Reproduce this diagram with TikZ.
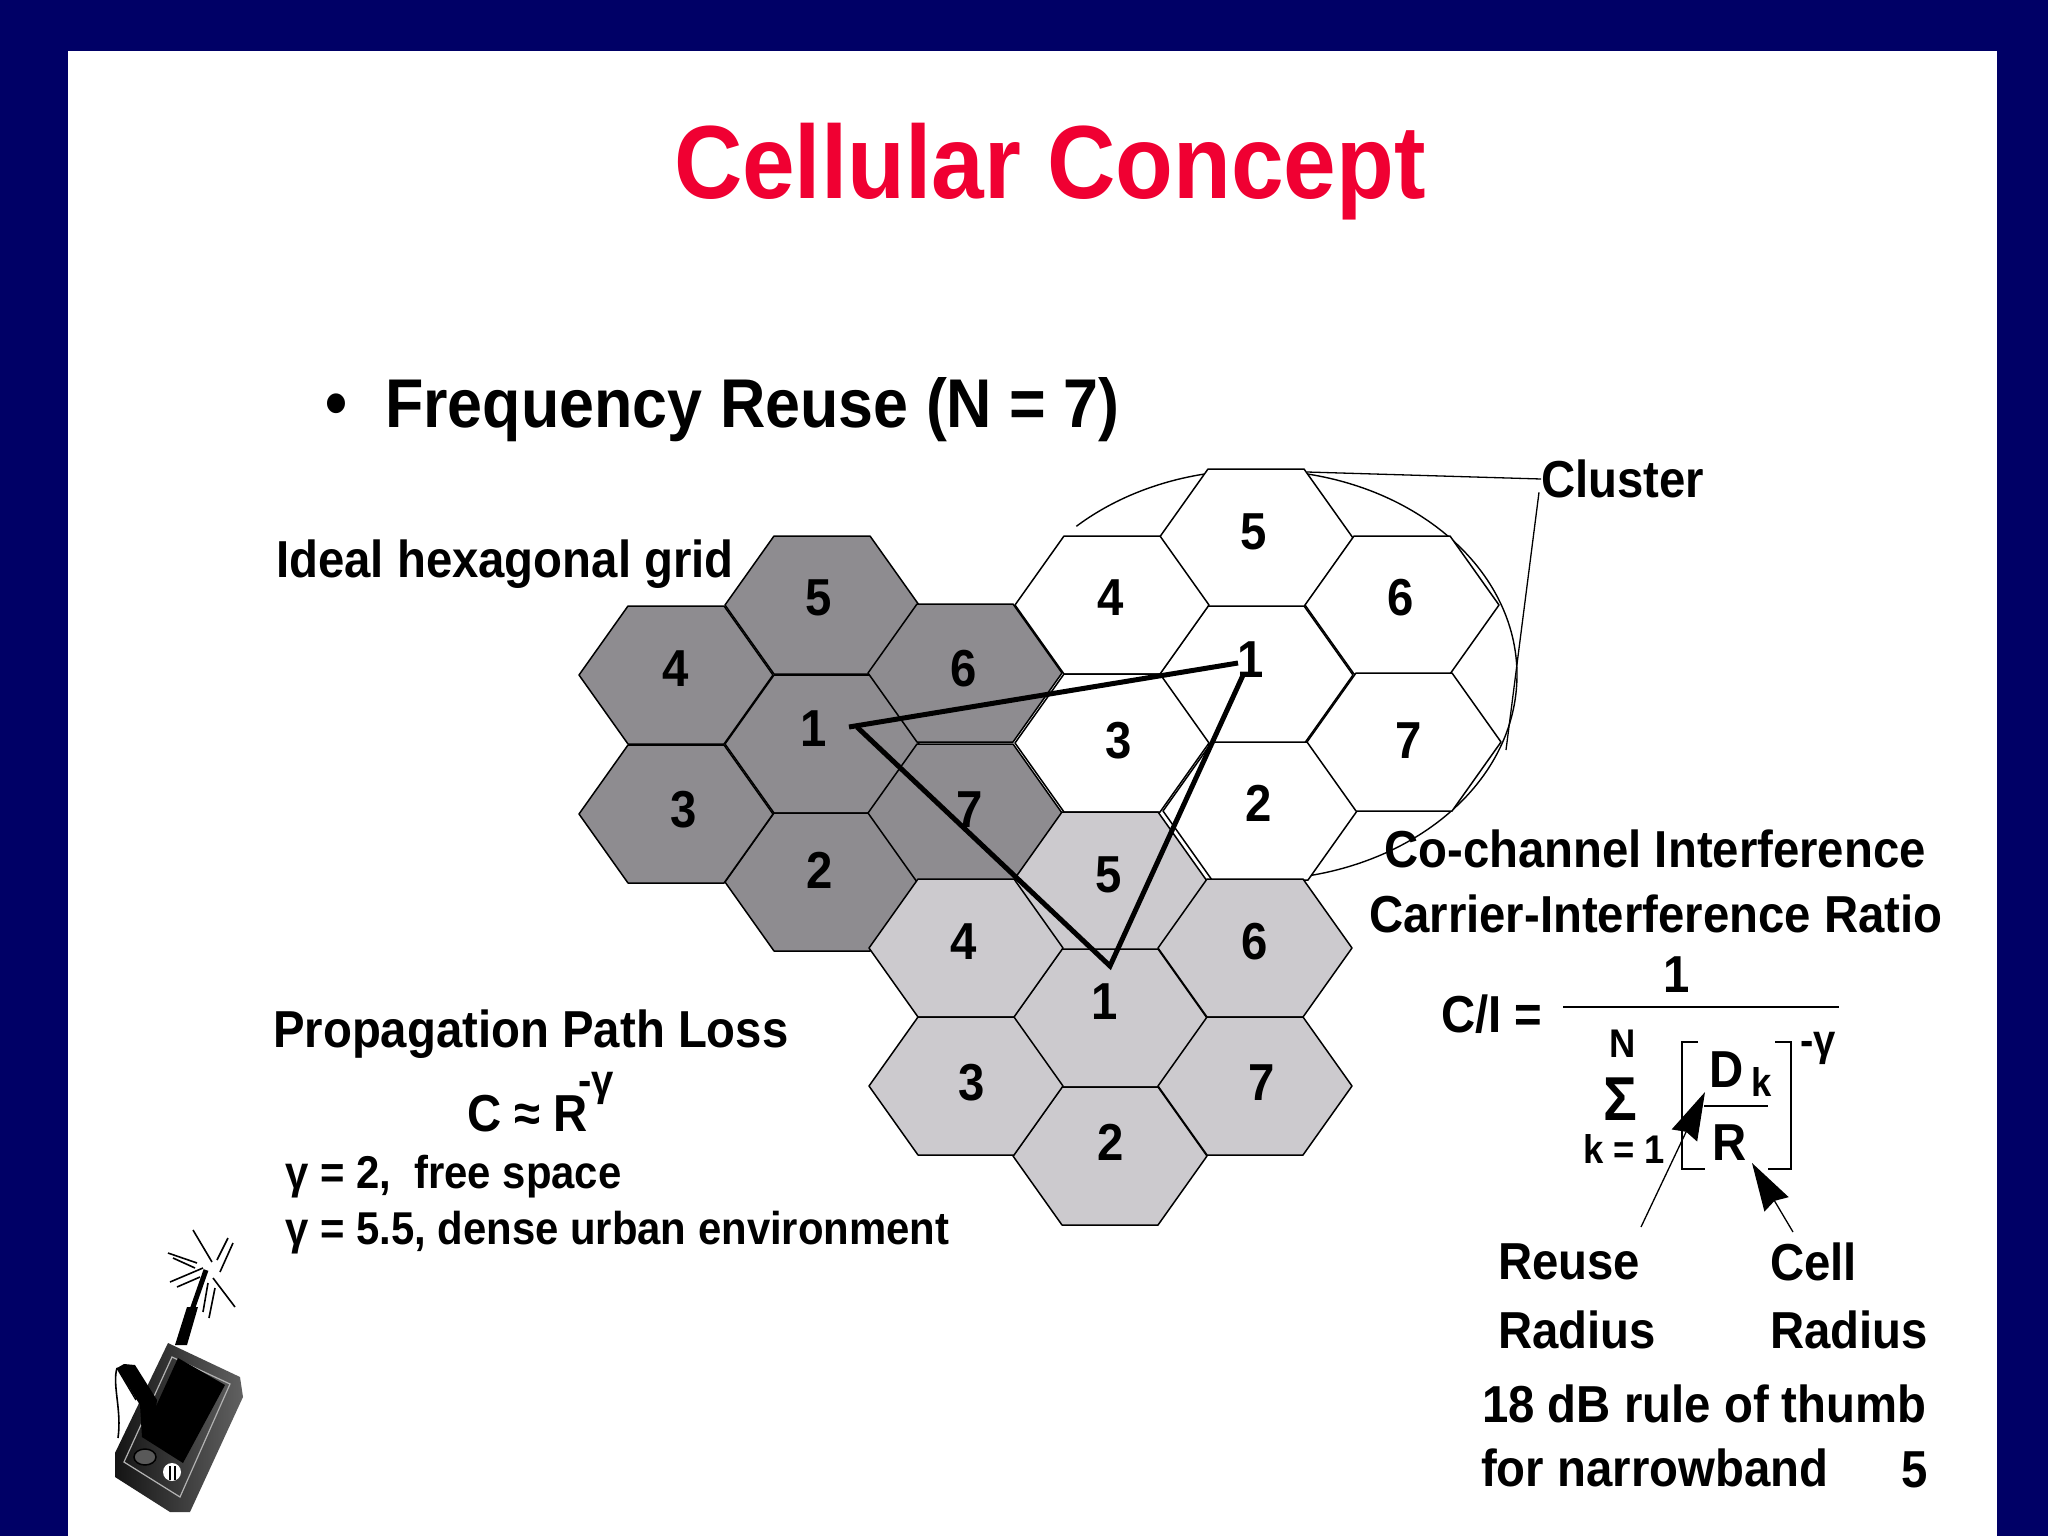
\documentclass[tikz,border=0pt]{standalone}
\usepackage{fontspec}
\setmainfont[FakeStretch=0.91]{Liberation Sans}
\usetikzlibrary{arrows.meta,positioning}
\definecolor{slidenavy}{RGB}{0,0,102}
\definecolor{titlered}{RGB}{240,0,50}
\definecolor{celldark}{RGB}{142,140,144}
\definecolor{celllight}{RGB}{204,202,206}
\newcommand{\hexcell}[3]{\draw[hexline, fill=#3, shift={(#1,#2)}] (-97,0) -- (-48,-69) -- (48,-69) -- (97,0) -- (48,69) -- (-48,69) -- cycle;}

\begin{document}
\begin{tikzpicture}[
  x=1pt, y=-1pt,
  hexline/.style={line width=1.5pt, line join=round},
  lbl/.style={font=\fontsize{52}{60}\selectfont\bfseries, inner sep=0pt, anchor=west},
  digit/.style={font=\fontsize{52}{60}\selectfont\bfseries, inner sep=0pt},
  pointer/.style={line width=1.3pt},
  bigtip/.style={-{Stealth[length=48pt, width=28pt, inset=4pt]}, line width=1.3pt},
  tri/.style={line width=5pt},
  spark/.style={line width=1.6pt},
]
\useasboundingbox (0,0) rectangle (2048,1536);
\fill[slidenavy] (0,0) rectangle (2048,1536);
\fill[white] (68,51) rectangle (1997,1536);

\node[font=\fontsize{104}{120}\selectfont\bfseries, text=titlered, inner sep=0pt] (title) at (1050,172) {Cellular Concept};
\node[font=\fontsize{69}{80}\selectfont\bfseries, inner sep=0pt] (bullet) at (336,410) {\textbullet};
\node[lbl, font=\fontsize{69}{80}\selectfont\bfseries] (reuse) at (385,410) {Frequency Reuse (N = 7)};
\node[lbl] (grid) at (276,564) {Ideal hexagonal grid};

% cluster outline
\coordinate (ring) at (1256,675);
\draw[line width=1.4pt] (ring) ++(133.5:261pt and 205pt) arc[start angle=133.5, end angle=-78.4, x radius=261pt, y radius=205pt];

% dark cluster
\foreach \x/\y in {822/605, 822/744, 822/882, 676/675, 676/814, 965/673, 965/813}
  {\hexcell{\x}{\y}{celldark}}
% white cluster
\foreach \x/\y in {1256/538, 1256/675, 1260/811, 1112/605, 1112/743, 1402/605, 1404/742}
  {\hexcell{\x}{\y}{white}}
% light cluster
\foreach \x/\y in {1110/881, 1110/1018, 1110/1156, 966/948, 966/1086, 1255/948, 1255/1086}
  {\hexcell{\x}{\y}{celllight}}

\foreach \n/\x/\y in {5/819/598, 4/676/669, 6/964/669, 1/814/729, 3/684/810, 7/970/810, 2/820/870}
  \node[digit] (dark\n) at (\x,\y) {\n};
\foreach \n/\x/\y in {5/1254/532, 4/1111/598, 6/1401/598, 1/1251/660, 3/1119/741, 7/1409/741, 2/1259/803}
  \node[digit] (open\n) at (\x,\y) {\n};
\foreach \n/\x/\y in {5/1109/875, 4/964/942, 6/1255/942, 1/1105/1002, 3/972/1083, 7/1262/1083, 2/1111/1142}
  \node[digit] (lite\n) at (\x,\y) {\n};

% reuse triangle
\coordinate (triA) at (849,727);
\coordinate (triB) at (1238,663);
\coordinate (triC) at (1244,673);
\coordinate (triD) at (1110,966);
\draw[tri] (triA) -- (triB);
\draw[tri] (triA) ++(8,0) -- (triD) -- (triC);

\node[lbl] (cluster) at (1541,479) {Cluster};
\coordinate (ringtop) at (1307,472);
\coordinate (ringside) at (1506,750);
\draw[pointer] (cluster.west) -- (ringtop);
\draw[pointer] (cluster.south west) ++(-2,-6) -- (ringside);

% path loss
\node[lbl] (loss) at (273,1034) {Propagation Path Loss};
\node[lbl] (approx) at (467,1114) {C ≈ R};
\node[lbl, font=\fontsize{44}{50}\selectfont\bfseries] (approxexp) at (578,1088) {-γ};
\node[lbl, font=\fontsize{46}{54}\selectfont\bfseries] (free) at (285,1177) {γ = 2,\ \ free space};
\node[lbl, font=\fontsize{46}{54}\selectfont\bfseries] (urban) at (285,1233) {γ = 5.5, dense urban environment};

% interference ratio
\node[lbl] (cochan) at (1384,849) {Co-channel Interference};
\node[lbl] (carrier) at (1369,914) {Carrier-Interference Ratio};
\node[lbl] (ci) at (1441,1014) {C/I =};
\node[digit] (one) at (1677,975) {1};
\coordinate (barL) at (1563,1007);
\coordinate (barR) at (1839,1007);
\draw[line width=2pt] (barL) -- (barR);
\node[digit, font=\fontsize{40}{46}\selectfont\bfseries] (topN) at (1623,1044) {N};
\node[digit, font=\fontsize{62}{68}\selectfont\bfseries] (sigma) at (1620,1099) {Σ};
\node[digit, font=\fontsize{40}{46}\selectfont\bfseries] (lowk) at (1624,1149) {k = 1};
\draw[line width=1.6pt] (1698,1042) -- (1682,1042) -- (1682,1169) -- (1705,1169);
\draw[line width=1.6pt] (1775,1042) -- (1791,1042) -- (1791,1169) -- (1768,1169);
\draw[line width=1.6pt] (1704,1106) -- (1768,1106);
\node[digit] (numD) at (1727,1070) {D};
\node[digit, font=\fontsize{40}{46}\selectfont\bfseries] (numk) at (1762,1082) {k};
\node[digit] (denR) at (1730,1143) {R};
\node[digit, font=\fontsize{44}{50}\selectfont\bfseries] (expg) at (1818,1048) {-γ};

\node[lbl] (reuselbl) at (1498,1262) {Reuse};
\node[lbl] (reuserad) at (1498,1330) {Radius};
\node[lbl] (celllbl) at (1770,1262) {Cell};
\node[lbl] (cellrad) at (1770,1330) {Radius};
\coordinate (reusetail) at (1641,1227);
\coordinate (reusetip) at (1705,1092);
\coordinate (celltail) at (1793,1232);
\coordinate (celltip) at (1752,1163);
\draw[bigtip] (reusetail) -- (reusetip);
\draw[bigtip] (celltail) -- (celltip);
\node[lbl] (rule) at (1482,1404) {18 dB rule of thumb};
\node[lbl] (narrow) at (1481,1468) {for narrowband};
\node[digit] (pageno) at (1915,1470) {5};

% handset
\shade[left color=black!92, right color=black!62] (168,1343) -- (240,1377) -- (243,1397) -- (190,1512) -- (170,1512) -- (115,1477) -- (115,1453) -- cycle;
\draw[gray!60, line width=1.2pt] (172,1357) -- (230,1384) -- (180,1497) -- (124,1462) -- cycle;
\fill[black] (178,1358) -- (225,1385) -- (183,1463) -- (142,1437) -- cycle;
\fill[black] (117,1368) -- (124,1364) -- (135,1365) -- (157,1400) -- (152,1440) -- (142,1437) -- (140,1405) -- cycle;
\draw[line width=1.6pt] (117,1368) .. controls (112,1385) and (122,1410) .. (118,1438);
\draw[line width=1.4pt] (117,1368) -- (136,1400);
\fill[black!65, draw=black, line width=1.5pt] (145,1457) ellipse (11pt and 8pt);
\fill[white] (172,1472) circle (9pt);
\draw[line width=2pt] (170,1466) -- (170,1480) (175,1466) -- (175,1480);
\fill[black] (175,1345) -- (187,1307) -- (198,1307) -- (187,1345) -- cycle;
\draw[line width=5pt] (192,1310) -- (206,1270);
\foreach \a/\b/\c/\d in {193/1230/212/1262, 228/1238/217/1260, 233/1243/220/1272, 213/1278/235/1307, 208/1283/203/1312, 215/1288/209/1318, 203/1268/170/1282, 200/1277/177/1287, 168/1253/197/1263, 173/1258/195/1268}
  \draw[spark] (\a,\b) -- (\c,\d);
\end{tikzpicture}
\end{document}
